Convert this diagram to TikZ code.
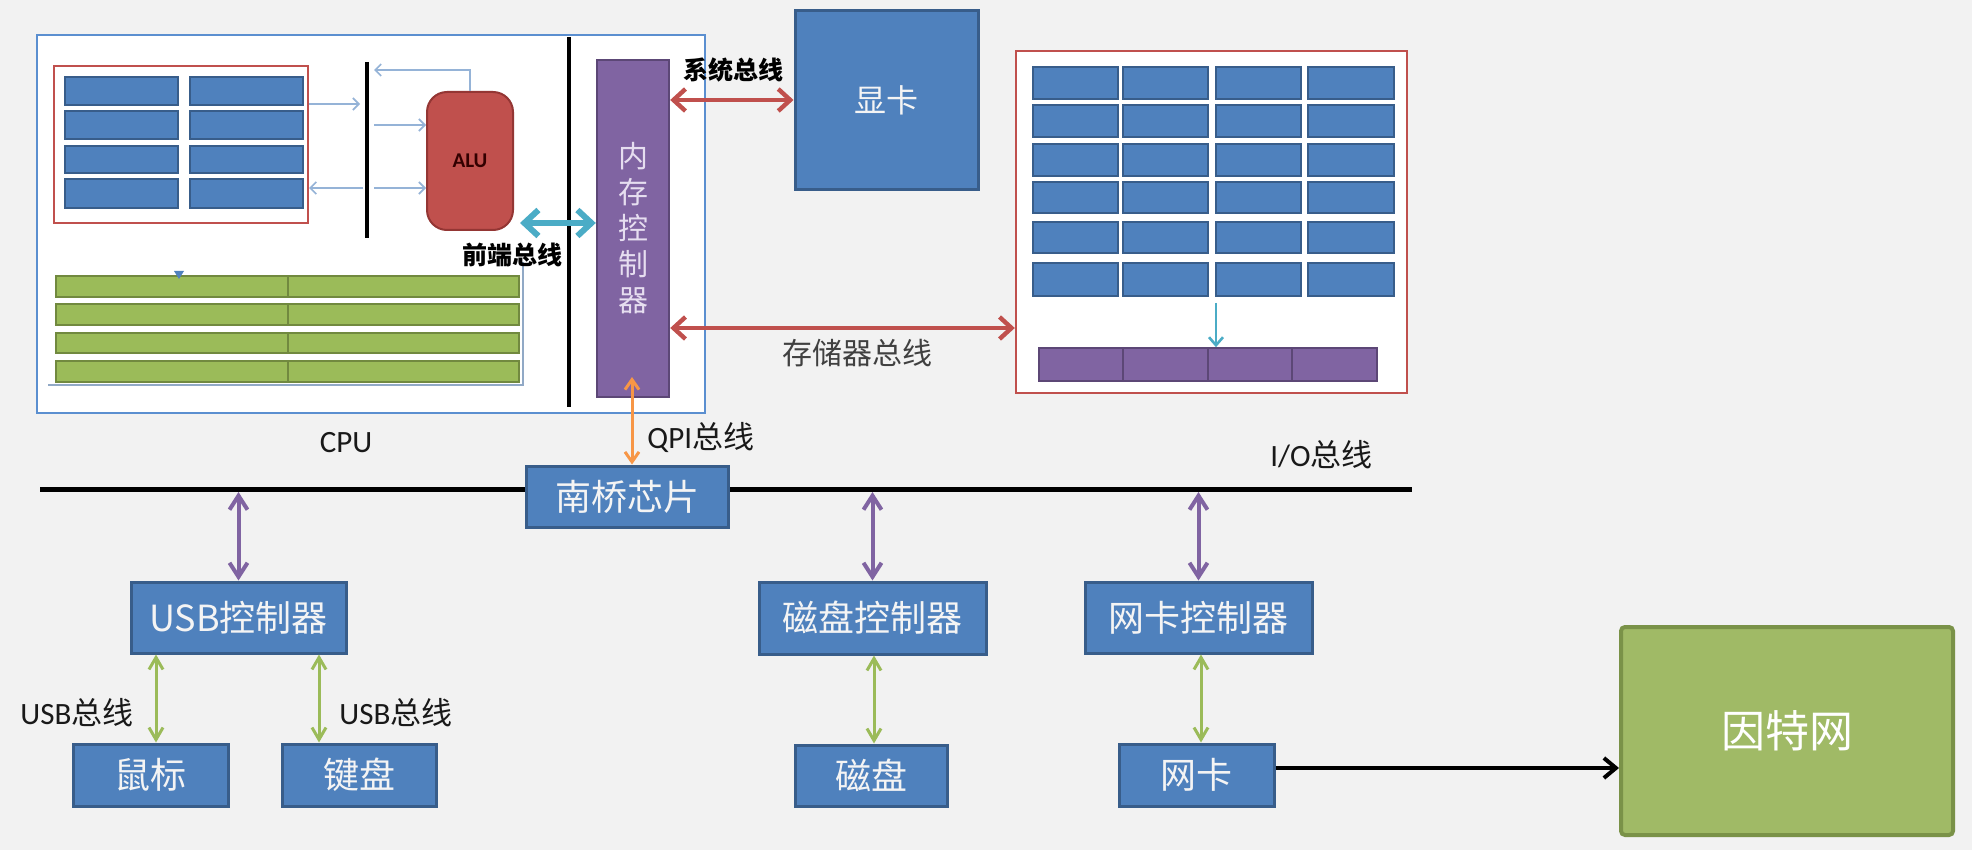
\documentclass[tikz,border=0pt]{standalone}
\usepackage{fontspec}
\setmainfont{Carlito}
\newfontfamily\cjk{Noto Sans CJK SC}
\usetikzlibrary{arrows.meta}

\definecolor{bg}{HTML}{F2F2F2}
\definecolor{boxblue}{HTML}{4F81BD}
\definecolor{boxedge}{HTML}{385D8A}
\definecolor{cpuedge}{HTML}{5B8FD0}
\definecolor{redfill}{HTML}{C0504D}
\definecolor{rededge}{HTML}{943634}
\definecolor{purfill}{HTML}{8064A2}
\definecolor{puredge}{HTML}{5C4776}
\definecolor{grnfill}{HTML}{9BBB59}
\definecolor{grnedge}{HTML}{71893F}
\definecolor{netfill}{HTML}{A0BA66}
\definecolor{netedge}{HTML}{7A9248}
\definecolor{cyanarr}{HTML}{4BACC6}
\definecolor{orangearr}{HTML}{F79646}
\definecolor{thinblue}{HTML}{95B3D7}
\definecolor{lighttext}{HTML}{F4F4F4}
\definecolor{purtext}{HTML}{E6DEF0}
\definecolor{labelgray}{HTML}{404040}

\tikzset{
  bluebox/.style={draw=boxedge, fill=boxblue, line width=1.5pt, inner sep=0pt,
    text=lighttext, font=\cjk\fontsize{18}{20}\selectfont},
  cell/.style={draw=boxedge, fill=boxblue, line width=1pt},
  bar/.style={draw=grnedge, fill=grnfill, line width=0.8pt},
  framebox/.style={fill=white, line width=1.2pt, inner sep=0pt},
  lbl/.style={inner sep=0pt, text=black!90, font=\fontsize{15.5}{17}\selectfont},
  boldlbl/.style={inner sep=0pt, text=black, font=\cjk\bfseries\fontsize{12.5}{14}\selectfont},
  thinarr/.style={draw=thinblue, line width=0.8pt, -{Straight Barb[length=3pt,width=6pt]}},
  redlink/.style={draw=redfill, line width=2.2pt,
    {Straight Barb[length=6pt,width=11pt]}-{Straight Barb[length=6pt,width=11pt]}},
  cyanlink/.style={draw=cyanarr, line width=3pt,
    {Straight Barb[length=7pt,width=13pt]}-{Straight Barb[length=7pt,width=13pt]}},
  purlink/.style={draw=purfill, line width=2pt,
    {Straight Barb[length=7pt,width=9pt]}-{Straight Barb[length=7pt,width=9pt]}},
  grnlink/.style={draw=grnfill, line width=1.5pt,
    {Straight Barb[length=6pt,width=7pt]}-{Straight Barb[length=6pt,width=7pt]}},
  orglink/.style={draw=orangearr, line width=1.5pt,
    {Straight Barb[length=5pt,width=7pt]}-{Straight Barb[length=5pt,width=7pt]}},
  blklink/.style={draw=black, line width=2pt, -{Straight Barb[length=6pt,width=10pt]}},
  busline/.style={draw=black, line width=2pt},
}

\begin{document}
\begin{tikzpicture}[x=0.5pt, y=-0.5pt]
  % canvas
  \useasboundingbox (0,0) rectangle (1972,850);
  \fill[bg] (0,0) rectangle (1972,850);

  % ---------------- CPU ----------------
  \node[framebox, draw=cpuedge, minimum width=334pt, minimum height=189pt] (cpu) at (371,224) {};
  \node[framebox, draw=redfill, minimum width=127pt, minimum height=78.5pt] (regs) at (181,144.5) {};
  % register cells
  \foreach \xa/\xb in {65/178, 190/303}
    \foreach \ya/\yb in {77/105, 111/139, 146/173, 179/208}
      \draw[cell] (\xa,\ya) rectangle (\xb,\yb);
  % internal bus inside the core
  \coordinate (ib1) at (367,62);
  \coordinate (ib2) at (367,238);
  \draw[busline] (ib1) -- (ib2);
  % ALU
  \node[draw=rededge, fill=redfill, line width=1pt, rounded corners=10pt,
        minimum width=43pt, minimum height=69pt, inner sep=0pt,
        text=black!80!red, font=\bfseries\fontsize{10.5}{12}\selectfont] (alu) at (470,161) {ALU};
  % thin data paths
  \coordinate (t1) at (374,70);
  \draw[thinarr] (alu.north) |- (t1);
  \coordinate (r1) at (360,104);
  \draw[thinarr] (regs.east |- r1) -- (r1);
  \coordinate (a1) at (374,125);
  \draw[thinarr] (a1) -- (a1 -| alu.west);
  \coordinate (r2) at (363,188);
  \draw[thinarr] (r2) -- (r2 -| regs.east);
  \coordinate (a2) at (374,188);
  \draw[thinarr] (a2) -- (a2 -| alu.west);
  % cache bars
  \foreach \ya/\yb in {276/297, 304/325, 333/353, 361/382} {
    \draw[bar] (56,\ya) rectangle (519,\yb);
    \draw[grnedge, line width=0.8pt] (288,\ya) -- (288,\yb);
  }
  \draw[thinblue!80!gray, line width=0.7pt] (48,385) -- (523,385) -- (523,262);
  \fill[boxblue] (174,271) -- (184,271) -- (179,279) -- cycle;
  % separator inside CPU
  \coordinate (sp1) at (569,37);
  \coordinate (sp2) at (569,407);
  \draw[busline] (sp1) -- (sp2);
  % memory controller
  \node[draw=puredge, fill=purfill, line width=1.2pt, minimum width=36pt, minimum height=168.5pt,
        inner sep=0pt, align=center, text=purtext, font=\cjk\fontsize{15}{18}\selectfont] (mc) at (633,228.5)
        {内\\存\\控\\制\\器};
  % front side bus
  \coordinate (fsb) at (0,223);
  \draw[cyanlink] ([xshift=3pt]alu.east |- fsb) -- (mc.west |- fsb);
  \node[boldlbl] (lfsb) at (512,255) {前端总线};
  \node[lbl] (lcpu) at (346,443) {CPU};

  % ---------------- graphics card ----------------
  \node[bluebox, minimum width=91.5pt, minimum height=89.5pt,
        font=\cjk\fontsize{16}{18}\selectfont] (gpu) at (886.5,100.5) {显卡};
  \coordinate (sb) at (0,100);
  \draw[redlink] (mc.east |- sb) -- (gpu.west |- sb);
  \node[boldlbl] (lsys) at (733,70) {系统总线};

  % ---------------- main memory ----------------
  \node[framebox, draw=redfill, minimum width=195.5pt, minimum height=171pt] (mem) at (1211.5,222) {};
  \foreach \xa/\xb in {1033/1118, 1123/1208, 1216/1301, 1308/1394}
    \foreach \ya/\yb in {67/99, 105/137, 144/176, 182/213, 222/253, 263/296}
      \draw[cell] (\xa,\ya) rectangle (\xb,\yb);
  \node[draw=puredge, fill=purfill, line width=0.8pt, minimum width=169pt, minimum height=16.5pt,
        inner sep=0pt] (membar) at (1208,364.5) {};
  \foreach \xd in {1123, 1208, 1292}
    \draw[puredge, line width=0.8pt] (\xd,348) -- (\xd,381);
  \coordinate (c1) at (1216,303);
  \draw[draw=cyanarr, line width=1.3pt, -{Straight Barb[length=4pt,width=7pt]}] (c1) -- (c1 |- membar.north);
  \coordinate (mb) at (0,328);
  \draw[redlink] (mc.east |- mb) -- (mem.west |- mb);
  \node[inner sep=0pt, text=labelgray, font=\cjk\fontsize{15}{17}\selectfont] (lmem) at (857,353) {存储器总线};

  % ---------------- I/O bus ----------------
  \coordinate (busL) at (40,489);
  \coordinate (busR) at (1412,489);
  \draw[busline, line width=2.5pt] (busL) -- (busR);
  \node[lbl, anchor=west] (lio) at (1270,455) {I/O{\cjk 总线}};
  \node[bluebox, minimum width=101pt, minimum height=30.5pt] (nb) at (627,496.5) {南桥芯片};
  \coordinate (q) at (632,377);
  \draw[orglink] (q) -- (nb.north -| q);
  \node[lbl, anchor=west] (lqpi) at (647,438) {QPI{\cjk 总线}};

  % controllers
  \node[bluebox, minimum width=107.5pt, minimum height=35.5pt] (usbc) at (238.5,617.5) {USB{\cjk 控制器}};
  \node[bluebox, minimum width=113.5pt, minimum height=36pt] (diskc) at (872.5,618) {磁盘控制器};
  \node[bluebox, minimum width=113.5pt, minimum height=35.5pt] (nicc) at (1198.5,617.5) {网卡控制器};
  \draw[purlink, shorten <=1.5pt] (usbc.north |- busL) -- (usbc.north);
  \draw[purlink, shorten <=1.5pt] (diskc.north |- busL) -- (diskc.north);
  \draw[purlink, shorten <=1.5pt] (nicc.north |- busL) -- (nicc.north);

  % devices
  \node[bluebox, minimum width=77.5pt, minimum height=31pt] (mouse) at (150.5,775) {鼠标};
  \node[bluebox, minimum width=77pt, minimum height=31pt] (kbd) at (359,775) {键盘};
  \node[bluebox, minimum width=76pt, minimum height=30.5pt] (disk) at (871,775.5) {磁盘};
  \node[bluebox, minimum width=77.5pt, minimum height=31pt] (nic) at (1196.5,775) {网卡};
  \coordinate (gm) at (156,0);
  \coordinate (gk) at (319,0);
  \coordinate (gd) at (874,0);
  \coordinate (gn) at (1201,0);
  \draw[grnlink] (usbc.south -| gm) -- (mouse.north -| gm);
  \draw[grnlink] (usbc.south -| gk) -- (kbd.north -| gk);
  \draw[grnlink] (diskc.south -| gd) -- (disk.north -| gd);
  \draw[grnlink] (nicc.south -| gn) -- (nic.north -| gn);
  \node[lbl, anchor=west] (lusb1) at (20,713) {USB{\cjk 总线}};
  \node[lbl, anchor=west] (lusb2) at (339,713) {USB{\cjk 总线}};

  % internet
  \node[draw=netedge, fill=netfill, line width=2pt, rounded corners=2pt,
        minimum width=166pt, minimum height=104pt, inner sep=0pt,
        text=white, font=\cjk\fontsize{22}{24}\selectfont] (net) at (1787,731) {因特网};
  \coordinate (nt) at (0,768);
  \draw[blklink] (nic.east |- nt) -- (net.west |- nt);
\end{tikzpicture}
\end{document}
